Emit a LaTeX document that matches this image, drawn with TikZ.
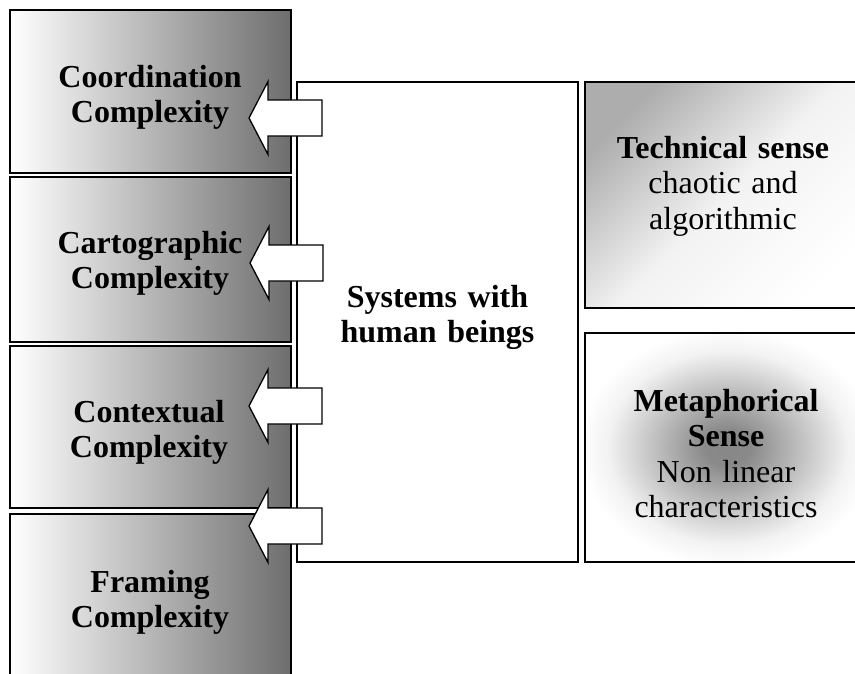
\documentclass[tikz,border=0pt]{standalone}
\usepackage{fontspec}
\setmainfont{Liberation Serif}
% diagonal fade: grey in one corner, white over the rest
\pgfdeclareverticalshading{techshade}{100bp}{color(0bp)=(white); color(25bp)=(white); color(50bp)=(black!5); color(75bp)=(black!32); color(100bp)=(black!32)}
% dark centre fading out to the edges
\pgfdeclareradialshading{metashade}{\pgfpoint{0bp}{0bp}}{color(0bp)=(black!47); color(4bp)=(black!46); color(21bp)=(black!5); color(26bp)=(white); color(50bp)=(white)}
\begin{document}
\begin{tikzpicture}[x=1pt,y=-1pt,
  frame/.style={draw=black, line width=1.8pt, inner sep=0pt},
  sidebox/.style={frame, left color=white, right color=black!57, minimum width=281pt},
  txt/.style={text width=300pt, align=center, anchor=base, inner sep=0pt,
              font=\fontsize{32}{35.5}\selectfont},
  boldtxt/.style={txt, font=\fontsize{32}{35.5}\selectfont\bfseries},
  blockarrow/.style={draw=black, fill=white, line width=1.3pt, line join=miter},
  arrowshape/.style={insert path={-- ++(19,-36.5) -- ++(0,18.5) -- ++(54,0)
                     -- ++(0,36) -- ++(-54,0) -- ++(0,18.5) -- cycle}}]
\useasboundingbox (0,0) rectangle (855,673);
\clip (0,0) rectangle (855,673);

% column of complexity boxes
\node[sidebox, minimum height=163pt] (coord) at (150.5,91.5) {};
\node[sidebox, minimum height=165pt] (carto) at (150.5,259.5) {};
\node[sidebox, minimum height=162pt] (context) at (150.5,427) {};
\node[sidebox, minimum height=186pt] (framing) at (150.5,607) {};

% central system box
\node[frame, fill=white, minimum width=281pt, minimum height=480pt] (systems) at (437.5,322) {};

% the two senses of complexity
\node[frame, shading=techshade, shading angle=45, minimum width=285pt, minimum height=226pt] (technical) at (727.5,195) {};
\node[frame, shading=metashade, minimum width=285pt, minimum height=229pt] (metaphor) at (727.5,447.5) {};

% texts
\node[boldtxt] (tcoord) at (150,87) {Coordination\\Complexity};
\node[boldtxt] (tcarto) at (150,253) {Cartographic\\Complexity};
\node[boldtxt] (tcontext) at (149,422) {Contextual\\Complexity};
\node[boldtxt] (tframing) at (150,592) {Framing\\Complexity};
\node[boldtxt] (tsystems) at (437.5,307) {Systems with\\human beings};
\node[txt] (ttechnical) at (723,158) {\textbf{Technical sense}\\chaotic and\\algorithmic};
\node[txt] (tmetaphor) at (726,411) {\textbf{Metaphorical}\\\textbf{Sense}\\Non linear\\characteristics};

% block arrows from the system box into each complexity box
\coordinate (a1) at (249,118);
\coordinate (a2) at (250,263);
\coordinate (a3) at (249,406);
\coordinate (a4) at (249,526);
\draw[blockarrow] (a1) [arrowshape];
\draw[blockarrow] (a2) [arrowshape];
\draw[blockarrow] (a3) [arrowshape];
\draw[blockarrow] (a4) [arrowshape];
\end{tikzpicture}
\end{document}
